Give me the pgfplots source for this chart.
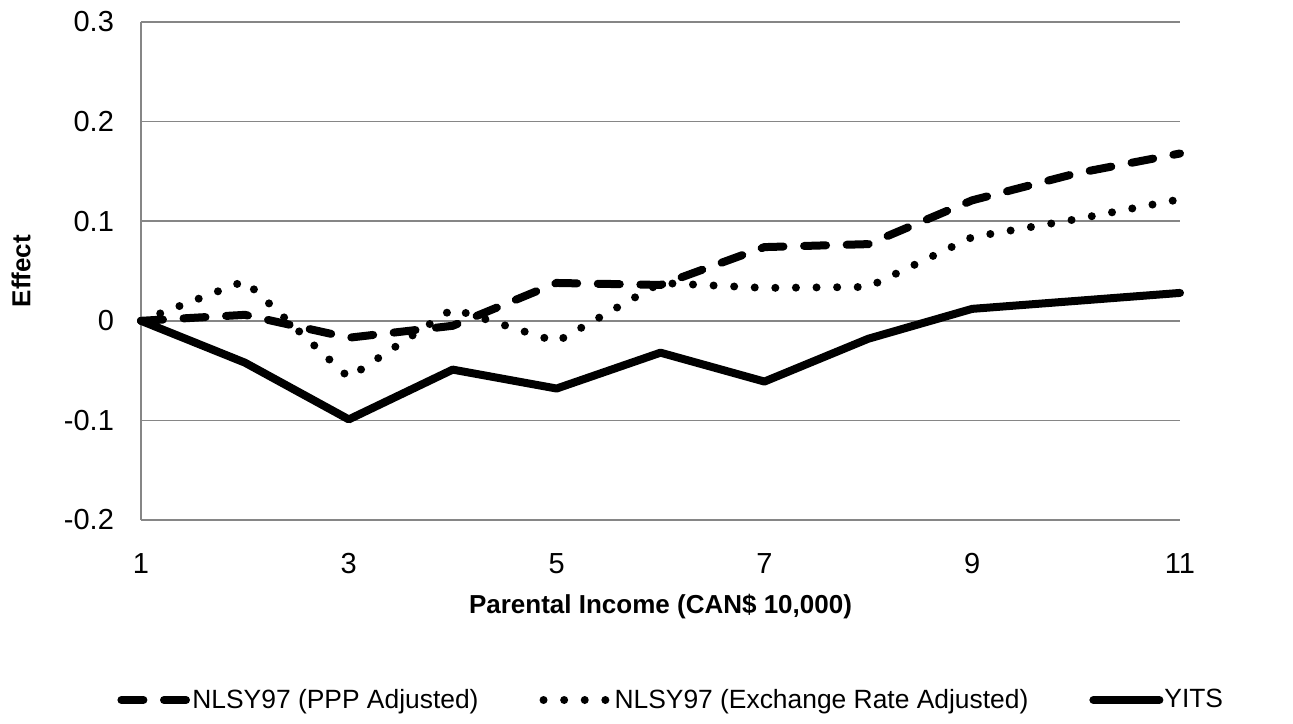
\documentclass[border=0pt]{standalone}
\usepackage{pgfplots}
\pgfplotsset{compat=1.18}
\usepackage{fontspec}
\setmainfont{Liberation Sans}
\definecolor{gridgray}{RGB}{134,134,134}
\pgfplotstableread{
x ppp exch yits
1 0 0 0
2 0.006 0.040 -0.042
3 -0.017 -0.057 -0.099
4 -0.005 0.012 -0.049
5 0.038 -0.021 -0.068
6 0.036 0.038 -0.032
7 0.074 0.033 -0.061
8 0.077 0.034 -0.018
9 0.121 0.084 0.012
10 0.148 0.102 0.020
11 0.168 0.122 0.028
}\datatable
\begin{document}
\begin{tikzpicture}
\begin{axis}[
  scale only axis,
  width=519.5pt, height=249pt,
  xmin=1, xmax=11, ymin=-0.2, ymax=0.3,
  xtick={1,3,5,7,9,11},
  xticklabels={1,3,5,7,9,11},
  ytick={-0.2,-0.1,0,0.1,0.2,0.3},
  yticklabels={-0.2,-0.1,0,0.1,0.2,0.3},
  axis x line*=bottom, axis y line*=left,
  axis line style={draw=gridgray, line width=0.8pt, -},
  major tick length=0pt,
  ymajorgrids, grid style={draw=gridgray, line width=0.8pt},
  tick label style={font=\fontsize{14.5}{17}\selectfont, text=black},
  xticklabel style={yshift=-13pt},
  yticklabel style={xshift=-10pt},
  xlabel={\textbf{Parental Income (CAN\$ 10,000)}},
  ylabel={\textbf{Effect}},
  label style={font=\fontsize{13}{15}\selectfont},
  xlabel style={at={([yshift=-43.5pt]axis description cs:0.5,0)}, anchor=center},
  ylabel style={at={([xshift=-60pt]axis description cs:0,0.5)}, anchor=center, rotate=0},
  legend style={at={([xshift=-15pt,yshift=-90pt]axis description cs:0,0)}, anchor=west, draw=none,
    legend columns=3, font=\fontsize{13.2}{15}\selectfont,
    /tikz/every even column/.append style={column sep=30pt},
    /tikz/every odd column/.append style={column sep=0pt},
    nodes={inner sep=0.5pt}},
  legend image code/.code={\draw[#1] (2pt,0pt) -- (35pt,0pt);},
  clip=false,
]
\addplot[black, line width=4pt, line cap=round, dash pattern=on 11pt off 10.3pt] table[x=x,y=ppp] {\datatable};
\addlegendentry{NLSY97 (PPP Adjusted)}
\addplot[black, line width=4pt, line cap=round, dash pattern=on 0pt off 10.3pt] table[x=x,y=exch] {\datatable};
\addlegendentry{NLSY97 (Exchange Rate Adjusted)}
\addplot[black, line width=4pt, line cap=round, line join=round] table[x=x,y=yits] {\datatable};
\addlegendentry{YITS}
\end{axis}
\pgfresetboundingbox
\path[use as bounding box] (-70.5pt,-101.5pt) rectangle (576pt,260pt);
\end{tikzpicture}
\end{document}
